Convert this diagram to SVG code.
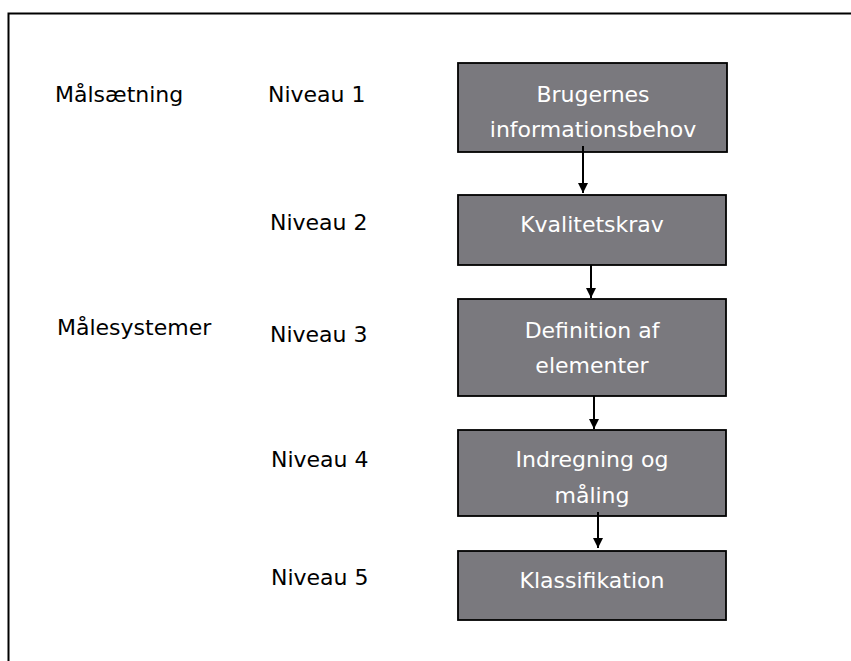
<svg xmlns="http://www.w3.org/2000/svg" width="851" height="661" viewBox="0 0 851 661">
<style>
text{font-family:"DejaVu Sans","Liberation Sans",sans-serif;font-size:22px}
.lbl{fill:#000}
.bt{fill:#fff;text-anchor:middle}
.box{fill:#7a797e;stroke:#000;stroke-width:1.8}
.con{stroke:#000;stroke-width:2;fill:none}
</style>
<defs>
<marker id="ah" viewBox="0 0 10 10" refX="10" refY="5" markerWidth="10" markerHeight="10" markerUnits="userSpaceOnUse" orient="auto">
<path d="M0,0 L10,5 L0,10 z" fill="#000"/>
</marker>
</defs>
<rect width="851" height="661" fill="#fff"/>
<path d="M8.5,661 V13.5 H851" fill="none" stroke="#000" stroke-width="2"/>
<g id="labels">
<text class="lbl" x="55" y="102">Målsætning</text>
<text class="lbl" x="57" y="335">Målesystemer</text>
<text class="lbl" x="268" y="102">Niveau 1</text>
<text class="lbl" x="270" y="230">Niveau 2</text>
<text class="lbl" x="270" y="342">Niveau 3</text>
<text class="lbl" x="271" y="467">Niveau 4</text>
<text class="lbl" x="271" y="585">Niveau 5</text>
</g>
<g id="n1"><rect class="box" x="458" y="63" width="269" height="89"/><text class="bt" x="593" y="102">Brugernes</text><text class="bt" x="593" y="137">informationsbehov</text></g>
<g id="n2"><rect class="box" x="458" y="195" width="268" height="70"/><text class="bt" x="592" y="232">Kvalitetskrav</text></g>
<g id="n3"><rect class="box" x="458" y="299" width="268" height="97"/><text class="bt" x="592" y="338">Definition af</text><text class="bt" x="592" y="373">elementer</text></g>
<g id="n4"><rect class="box" x="458" y="430" width="268" height="86"/><text class="bt" x="592" y="467">Indregning og</text><text class="bt" x="592" y="503">måling</text></g>
<g id="n5"><rect class="box" x="458" y="551" width="268" height="69"/><text class="bt" x="592" y="588">Klassifikation</text></g>
<g id="connectors">
<line class="con" x1="583" y1="146" x2="583" y2="193" marker-end="url(#ah)"/>
<line class="con" x1="591" y1="265" x2="591" y2="298" marker-end="url(#ah)"/>
<line class="con" x1="594" y1="396" x2="594" y2="429" marker-end="url(#ah)"/>
<line class="con" x1="598" y1="512" x2="598" y2="548" marker-end="url(#ah)"/>
</g>
</svg>
